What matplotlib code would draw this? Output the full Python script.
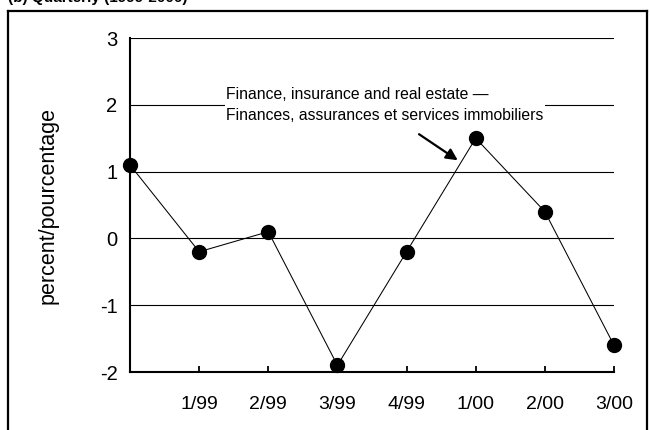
import matplotlib
matplotlib.use('Agg')
import matplotlib.pyplot as plt
from matplotlib.lines import Line2D

# quarterly change, finance / insurance / real estate
quarters = ['', '1/99', '2/99', '3/99', '4/99', '1/00', '2/00', '3/00']
values = [1.1, -0.2, 0.1, -1.9, -0.2, 1.5, 0.4, -1.6]
y_ticks = [-2, -1, 0, 1, 2, 3]

plt.rcParams['font.family'] = ['Liberation Sans', 'DejaVu Sans']

fig = plt.figure(figsize=(6.5, 4.3), dpi=100)
fig.patch.set_facecolor('white')
ax = fig.add_axes([130 / 650, 1 - 372 / 430, (614 - 130) / 650, (372 - 38) / 430])

x = list(range(len(values)))
ax.plot(x, values, color='black', linewidth=0.75, marker='o', markersize=10,
        markerfacecolor='black', markeredgecolor='black', clip_on=False, zorder=5)

ax.set_xlim(0, len(values) - 1)
ax.set_ylim(-2, 3)
ax.set_yticks(y_ticks)
ax.set_yticklabels([str(v) for v in y_ticks], fontsize=14.5)
ax.set_xticks(x[1:])
ax.set_xticklabels(quarters[1:], fontsize=14)

ax.tick_params(axis='y', length=0, pad=9)
ax.tick_params(axis='x', direction='in', length=4.5, width=1.3, pad=17)

ax.yaxis.grid(True, color='black', linewidth=0.8)
ax.set_axisbelow(True)
for side in ['top', 'right']:
    ax.spines[side].set_visible(False)
for side in ['left', 'bottom']:
    ax.spines[side].set_linewidth(1.5)

ax.set_ylabel('percent/pourcentage', fontsize=15.5, labelpad=30)

ax.text(1.39, 1.77, 'Finance, insurance and real estate \u2014\nFinances, assurances et services immobiliers',
        fontsize=11.3, ha='left', va='baseline', linespacing=1.55,
        bbox=dict(facecolor='white', edgecolor='none', pad=1), zorder=4)
ax.annotate('', xy=(4.74, 1.17), xytext=(4.18, 1.56),
            arrowprops=dict(arrowstyle='-|>', color='black', lw=1.6,
                            mutation_scale=17, shrinkA=0, shrinkB=0))

# outer frame around the panel
left, right, top = 8 / 650, 647 / 650, 1 - 11 / 430
fig.add_artist(Line2D([left, right], [top, top], transform=fig.transFigure, color='black', lw=1.6))
fig.add_artist(Line2D([left, left], [top, 0], transform=fig.transFigure, color='black', lw=1.6))
fig.add_artist(Line2D([right, right], [top, 0], transform=fig.transFigure, color='black', lw=1.6))

# panel title, cut off at the top edge as in the source
fig.text(8 / 650, 1 - 2 / 430, '(b) Quarterly (1999-2000)', fontsize=11,
         fontweight='bold', ha='left', va='baseline')

fig.savefig('out.png', dpi=100)
